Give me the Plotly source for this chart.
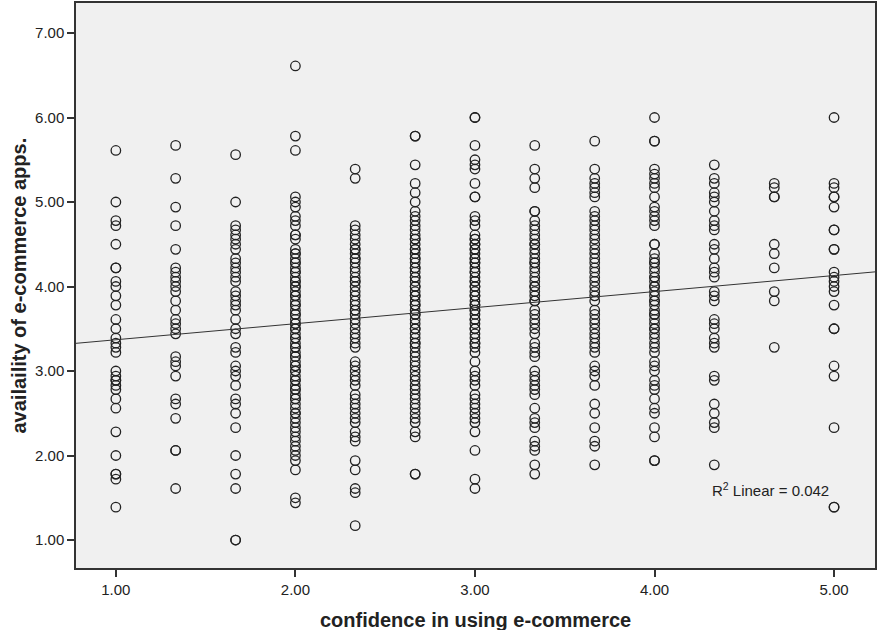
import plotly.graph_objects as go

# Confidence levels (x) and availability scores (y) observed at each level
confidence_levels = [1.0, 1.333, 1.667, 2.0, 2.333, 2.667, 3.0, 3.333, 3.667, 4.0, 4.333, 4.667, 5.0]

avail_at_100 = [5.61, 5.00, 4.78, 4.72, 4.50, 4.22, 4.22, 4.06, 4.00, 3.89, 3.78, 3.61, 3.50,
                3.39, 3.33, 3.28, 3.22, 3.00, 2.94, 2.89, 2.89, 2.83, 2.78, 2.67, 2.56, 2.28,
                2.00, 1.78, 1.78, 1.72, 1.39]
avail_at_133 = [5.67, 5.28, 4.94, 4.72, 4.44, 4.22, 4.17, 4.11, 4.06, 4.00, 3.94, 3.83, 3.72,
                3.61, 3.56, 3.50, 3.44, 3.17, 3.11, 3.06, 2.94, 2.67, 2.61, 2.44, 2.06, 2.06, 1.61]
avail_at_167 = [5.56, 5.00, 4.72, 4.67, 4.61, 4.56, 4.50, 4.44, 4.33, 4.28, 4.22, 4.17, 4.11,
                4.06, 3.94, 3.89, 3.83, 3.78, 3.72, 3.61, 3.50, 3.44, 3.28, 3.22, 3.06, 3.00,
                2.94, 2.83, 2.67, 2.61, 2.50, 2.33, 2.00, 1.78, 1.61, 1.00, 1.00]
avail_at_200 = [6.61, 5.78, 5.61, 5.06, 5.00, 4.94, 4.83, 4.78, 4.72, 4.61, 4.61, 4.56,
                4.44, 4.39, 4.39, 4.33, 4.28, 4.28, 4.22, 4.17, 4.17, 4.11, 4.06, 4.06, 4.00,
                4.00, 3.94, 3.89, 3.89, 3.83, 3.78, 3.78, 3.72, 3.67, 3.67, 3.61, 3.56, 3.56,
                3.50, 3.50, 3.44, 3.39, 3.39, 3.33, 3.28, 3.28, 3.22, 3.17, 3.17, 3.11, 3.06,
                3.06, 3.00, 3.00, 2.94, 2.89, 2.89, 2.83, 2.78, 2.78, 2.72, 2.67, 2.67, 2.61,
                2.56, 2.50, 2.50, 2.44, 2.39, 2.33, 2.28, 2.22, 2.17, 2.11, 2.06, 2.00, 1.94,
                1.83, 1.50, 1.44]
avail_at_233 = [5.39, 5.28,
                4.72, 4.67, 4.61, 4.56, 4.50, 4.44, 4.44, 4.39, 4.33, 4.33, 4.28, 4.22, 4.17,
                4.11, 4.06, 4.06, 4.00, 3.94, 3.89, 3.83, 3.78, 3.72, 3.72, 3.67, 3.61, 3.56,
                3.50, 3.44, 3.39, 3.33, 3.28, 3.11, 3.06, 3.00, 2.94, 2.89, 2.83, 2.72, 2.67,
                2.61, 2.56, 2.50, 2.44, 2.39,
                2.28, 2.22, 2.17, 1.94, 1.83, 1.61, 1.56, 1.17]
avail_at_267 = [5.78, 5.78, 5.44, 5.22, 5.11, 5.00, 4.89, 4.83, 4.78, 4.72, 4.67,
                4.61, 4.56, 4.56, 4.50, 4.44, 4.44, 4.39, 4.33, 4.33, 4.28, 4.22, 4.22, 4.17,
                4.11, 4.11, 4.06, 4.00, 4.00, 3.94, 3.89, 3.89, 3.83, 3.78, 3.78, 3.72, 3.67,
                3.67, 3.61, 3.56, 3.50, 3.50, 3.44, 3.39, 3.33, 3.33, 3.28, 3.22, 3.17, 3.11,
                3.06, 3.00, 2.94, 2.89, 2.83, 2.78, 2.72, 2.67, 2.61, 2.56, 2.50, 2.44, 2.39,
                2.28, 2.22, 1.78, 1.78]
avail_at_300 = [6.00, 6.00, 5.67, 5.50, 5.44, 5.39, 5.22, 5.06, 5.06, 4.83, 4.78, 4.72,
                4.61, 4.56, 4.56, 4.50, 4.50, 4.44, 4.44, 4.39, 4.33, 4.33, 4.28, 4.28, 4.22,
                4.17, 4.17, 4.11, 4.06, 4.06, 4.00, 4.00, 3.94, 3.89, 3.89, 3.83, 3.78, 3.78,
                3.72, 3.72, 3.67, 3.61, 3.61, 3.56, 3.50, 3.50, 3.44, 3.39, 3.33, 3.33, 3.28,
                3.22,
                3.11, 3.00, 2.94, 2.89, 2.83, 2.72, 2.67, 2.61, 2.56, 2.50, 2.44, 2.39, 2.28,
                2.06, 1.72, 1.61]
avail_at_333 = [5.67, 5.39, 5.28, 5.17, 4.89, 4.89,
                4.78, 4.72, 4.67, 4.61, 4.56, 4.50, 4.50, 4.44, 4.39, 4.33, 4.28, 4.28, 4.22,
                4.17, 4.11, 4.06, 4.00, 4.00, 3.94, 3.89, 3.83, 3.83,
                3.72, 3.67, 3.61, 3.56, 3.50, 3.44, 3.33, 3.28, 3.22, 3.17, 3.00, 2.94, 2.89,
                2.83, 2.78, 2.72, 2.56, 2.44, 2.39, 2.33, 2.17, 2.11, 2.06, 1.89, 1.78]
avail_at_367 = [5.72, 5.39, 5.28, 5.22, 5.17, 5.11, 5.06,
                4.89, 4.83, 4.78, 4.72, 4.67, 4.61, 4.56, 4.50, 4.44, 4.39, 4.33, 4.28, 4.22,
                4.17, 4.11, 4.06, 4.00, 3.94, 3.89, 3.83,
                3.72, 3.67, 3.61, 3.56, 3.50, 3.44, 3.39, 3.33, 3.28, 3.22, 3.06, 3.00, 2.94,
                2.83, 2.61, 2.50, 2.33, 2.17, 2.11, 1.89]
avail_at_400 = [6.00, 5.72, 5.72, 5.39, 5.33, 5.28, 5.22, 5.17, 5.06, 4.94, 4.89, 4.83, 4.78,
                4.72, 4.50, 4.50,
                4.39, 4.33, 4.28, 4.28, 4.22, 4.17, 4.11, 4.11, 4.06, 4.00, 4.00, 3.94, 3.89,
                3.83, 3.83, 3.78, 3.72, 3.67, 3.67, 3.61, 3.56, 3.50, 3.50, 3.44, 3.39, 3.33,
                3.28, 3.22,
                3.11, 3.06, 3.00, 2.89, 2.83, 2.78, 2.67, 2.56, 2.50, 2.33, 2.22, 1.94, 1.94]
avail_at_433 = [5.44, 5.28, 5.22, 5.11, 5.06, 5.00, 4.89, 4.78, 4.72, 4.67, 4.50, 4.44, 4.33,
                4.22, 4.17, 4.11, 3.94, 3.89, 3.83, 3.61, 3.56, 3.50, 3.39, 3.33, 3.28, 2.94,
                2.89, 2.61, 2.50, 2.39, 2.33, 1.89]
avail_at_467 = [5.22, 5.17, 5.06, 5.06, 4.50, 4.39, 4.22, 3.94, 3.83, 3.28]
avail_at_500 = [6.00, 5.22, 5.17, 5.06, 5.06, 4.94, 4.67, 4.67, 4.44, 4.44, 4.17, 4.11, 4.06,
                4.00, 3.94, 3.78, 3.50, 3.50, 3.06, 2.94, 2.33, 1.39, 1.39]

availability_by_level = [avail_at_100, avail_at_133, avail_at_167, avail_at_200, avail_at_233,
                         avail_at_267, avail_at_300, avail_at_333, avail_at_367, avail_at_400,
                         avail_at_433, avail_at_467, avail_at_500]

# Linear fit (intercept, slope) and its R-squared
fit_coefficients = [3.18, 0.19]
r_squared_text = "0.042"

x_ticks = [1, 2, 3, 4, 5]
y_ticks = [1, 2, 3, 4, 5, 6, 7]
x_range = [0.778, 5.228]
y_range = [0.669, 7.355]

xs, ys = [], []
for level, values in zip(confidence_levels, availability_by_level):
    xs.extend([level] * len(values))
    ys.extend(values)

ink = "#222222"
font_family = "Liberation Sans, Arial, sans-serif"

fig = go.Figure()
fig.add_trace(go.Scatter(
    x=xs, y=ys, mode="markers",
    marker=dict(symbol="circle-open", size=9.5, color=ink, line=dict(width=1.3)),
    showlegend=False, hoverinfo="x+y",
))

b0, b1 = fit_coefficients
fig.add_trace(go.Scatter(
    x=x_range, y=[b0 + b1 * x for x in x_range], mode="lines",
    line=dict(color="#333333", width=1), showlegend=False, hoverinfo="skip",
))

axis_common = dict(
    showgrid=False, zeroline=False, showline=True, mirror=True,
    linecolor="#333333", linewidth=1.5,
    ticks="outside", ticklen=7, tickwidth=1.5, tickcolor="#333333",
    tickformat=".2f", tickfont=dict(family=font_family, size=15, color=ink),
)

fig.update_xaxes(range=x_range, tickvals=x_ticks, **axis_common)
fig.update_yaxes(range=y_range, tickvals=y_ticks, **axis_common)

fig.add_annotation(
    x=4.311, y=1.60, xref="x", yref="y", xanchor="left", yanchor="middle",
    text=f"R<sup>2</sup> Linear = {r_squared_text}", showarrow=False,
    font=dict(family=font_family, size=15, color=ink),
)

# Axis titles
fig.add_annotation(
    x=0.5, y=0, xref="paper", yref="paper", xanchor="center", yanchor="middle",
    yshift=-52, text="confidence in using e-commerce", showarrow=False,
    font=dict(family=font_family, size=20, color=ink, weight="bold"),
)
fig.add_annotation(
    x=0, y=0.5, xref="paper", yref="paper", xanchor="center", yanchor="middle",
    xshift=-58, textangle=-90, text="availaility of e-commerce apps.", showarrow=False,
    font=dict(family=font_family, size=20, color=ink, weight="bold"),
)

fig.update_layout(
    width=878, height=630,
    margin=dict(l=76, r=1, t=3, b=62),
    paper_bgcolor="white", plot_bgcolor="#F0F0F0",
)

fig.write_html("out.html")
